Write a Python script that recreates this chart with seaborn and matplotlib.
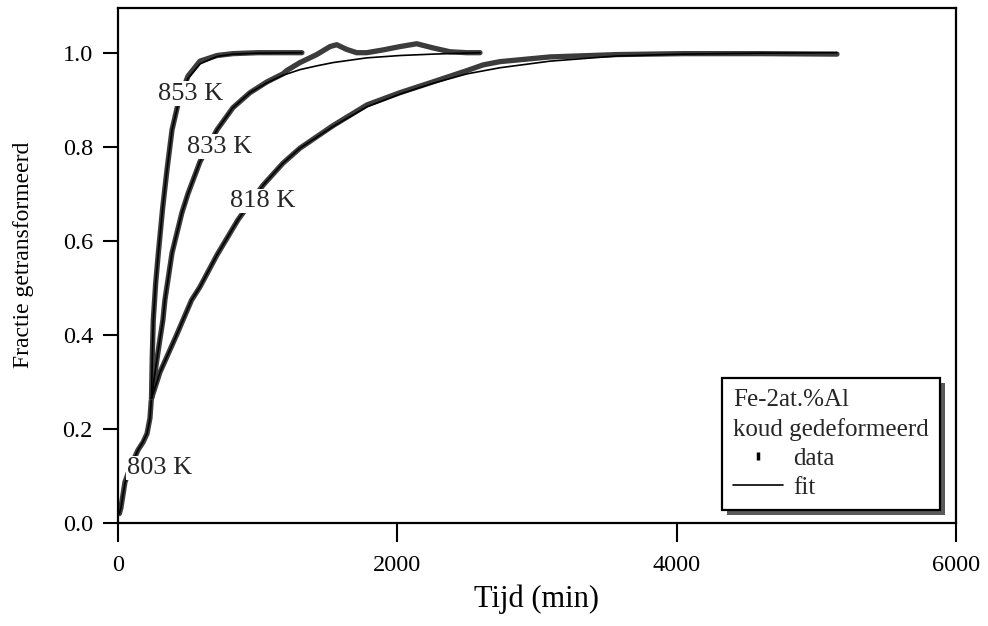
import matplotlib
matplotlib.use("Agg")
import matplotlib.pyplot as plt
import matplotlib.patheffects as pe
import seaborn as sns
from matplotlib.lines import Line2D

# Isothermal transformation of cold-worked Fe-2at.%Al: fraction vs time (min)

# 803 K: initial anneal segment
t_803 = [10, 21, 50, 90, 143, 180, 208, 229, 238]
f_803_data = [0.02, 0.032, 0.087, 0.12, 0.155, 0.172, 0.19, 0.223, 0.26]
f_803_fit = [0.02, 0.032, 0.085, 0.12, 0.155, 0.173, 0.19, 0.222, 0.26]

# 853 K
t_853 = [240, 246, 253, 270, 289, 320, 351, 387, 437, 501, 587, 709, 823, 1000, 1317]
f_853_data = [0.265, 0.36, 0.432, 0.51, 0.574, 0.67, 0.751, 0.836, 0.90, 0.95, 0.982,
              0.994, 0.998, 1.0, 1.0]
f_853_fit = [0.265, 0.36, 0.432, 0.51, 0.574, 0.67, 0.751, 0.836, 0.898, 0.945, 0.976,
             0.992, 0.997, 0.999, 1.0]

# 833 K
t_833_fit = [240, 270, 300, 322, 336, 387, 458, 501, 587, 709, 823, 945, 1067, 1181,
             1303, 1423, 1540, 1781, 2019, 2258, 2592]
f_833_fit = [0.265, 0.33, 0.39, 0.432, 0.474, 0.574, 0.66, 0.70, 0.768, 0.836, 0.883,
             0.915, 0.936, 0.952, 0.964, 0.972, 0.979, 0.989, 0.994, 0.997, 1.0]
t_833_data = [240, 270, 300, 322, 336, 387, 458, 501, 587, 709, 823, 945, 1067, 1181,
              1208, 1303, 1423, 1518, 1566, 1637, 1709, 1781, 1900, 2019, 2139, 2258,
              2377, 2497, 2592]
f_833_data = [0.265, 0.33, 0.39, 0.432, 0.474, 0.574, 0.66, 0.70, 0.768, 0.836, 0.883,
              0.915, 0.938, 0.955, 0.962, 0.979, 0.996, 1.013, 1.017, 1.007, 1.0, 1.0,
              1.006, 1.013, 1.019, 1.01, 1.002, 1.0, 1.0]

# 818 K
t_818_fit = [240, 300, 372, 420, 466, 527, 587, 709, 860, 1038, 1181, 1303, 1540, 1783,
             2019, 2256, 2499, 2735, 3093, 3573, 4046, 4600, 5148]
f_818_fit = [0.265, 0.32, 0.368, 0.40, 0.432, 0.474, 0.502, 0.57, 0.645, 0.718, 0.765,
             0.797, 0.843, 0.885, 0.912, 0.935, 0.955, 0.968, 0.982, 0.993, 0.997, 0.999,
             1.0]
t_818_data = [240, 300, 372, 420, 466, 527, 587, 709, 860, 1038, 1181, 1303, 1540, 1783,
              2019, 2256, 2499, 2614, 2735, 3093, 3573, 4046, 4600, 5148]
f_818_data = [0.265, 0.32, 0.368, 0.40, 0.432, 0.474, 0.502, 0.57, 0.645, 0.718, 0.765,
              0.797, 0.845, 0.889, 0.915, 0.938, 0.962, 0.974, 0.981, 0.991, 0.996, 0.998,
              0.998, 0.997]

series = [
    ("803 K", t_803, f_803_data, t_803, f_803_fit),
    ("853 K", t_853, f_853_data, t_853, f_853_fit),
    ("833 K", t_833_data, f_833_data, t_833_fit, f_833_fit),
    ("818 K", t_818_data, f_818_data, t_818_fit, f_818_fit),
]

# label anchor (time, fraction) for each temperature
label_pos = {"853 K": (523, 0.913), "833 K": (730, 0.80),
             "818 K": (1038, 0.685), "803 K": (301, 0.117)}

x_ticks = [0, 2000, 4000, 6000]
y_ticks = [0.0, 0.2, 0.4, 0.6, 0.8, 1.0]

sns.set_theme(style="ticks")
plt.rcParams["font.family"] = ["Liberation Serif", "DejaVu Serif"]
plt.rcParams["axes.linewidth"] = 1.6

fig = plt.figure(figsize=(9.88, 6.26), dpi=100)
ax = fig.add_axes([0.1194, 0.1645, 0.8482, 0.8227])

data_color = "#3c3c3c"
for name, td, fd, tf, ff in series:
    sns.lineplot(x=td, y=fd, ax=ax, color=data_color, lw=3.8, sort=False,
                 estimator=None, zorder=2)
    sns.lineplot(x=tf, y=ff, ax=ax, color="black", lw=1.2, sort=False,
                 estimator=None, zorder=3)
    lx, ly = label_pos[name]
    ax.text(lx, ly, name, ha="center", va="center", fontsize=19, zorder=5,
            bbox=dict(fc="white", ec="none", pad=1.0))

ax.set_xlim(0, 6000)
ax.set_ylim(0, 1.095)
ax.set_xticks(x_ticks)
ax.set_xticklabels([str(v) for v in x_ticks])
ax.set_yticks(y_ticks)
ax.set_yticklabels([f"{v:.1f}" for v in y_ticks])
ax.tick_params(axis="x", direction="out", length=14, width=1.5, labelsize=17.5, pad=9,
               colors="black")
ax.tick_params(axis="y", direction="out", length=11, width=1.5, labelsize=17.5, pad=7,
               colors="black")
for s in ax.spines.values():
    s.set_color("black")
    s.set_linewidth(1.6)

ax.set_xlabel("Tijd (min)", fontsize=22, labelpad=6, color="black")
ax.set_ylabel("Fractie getransformeerd", fontsize=17, color="black")
ax.yaxis.set_label_coords(-0.100, 0.52)

handles = [
    Line2D([], [], ls="none", marker="|", ms=6, mew=2.5, color="black"),
    Line2D([], [], color="black", lw=1.2),
]
leg = ax.legend(handles, ["data", "fit"], title="Fe-2at.%Al\nkoud gedeformeerd",
                loc="lower right", bbox_to_anchor=(0.981, 0.025), frameon=True,
                fancybox=False, edgecolor="black", framealpha=1.0, fontsize=18,
                title_fontsize=18, handlelength=2.0, handletextpad=0.4,
                borderpad=0.45, labelspacing=0.25, alignment="left",
                borderaxespad=0.0)
leg.get_title().set_linespacing(1.4)
frame = leg.get_frame()
frame.set_linewidth(1.6)
frame.set_path_effects([
    pe.SimplePatchShadow(offset=(3.5, -3.5), shadow_rgbFace="#5a5a5a", alpha=1.0),
    pe.Normal(),
])

fig.savefig("out.png", dpi=100)
